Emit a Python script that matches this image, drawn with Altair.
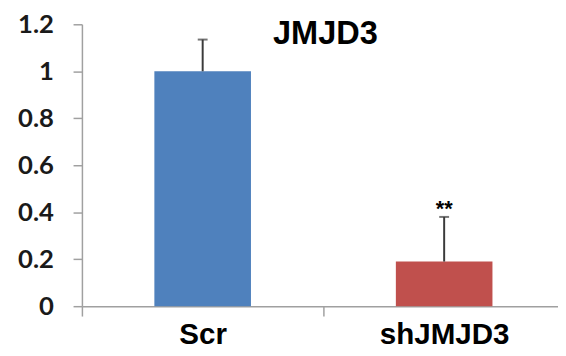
import altair as alt
import pandas as pd

categories = ["Scr", "shJMJD3"]
values = [1.0, 0.19]
errors = [0.135, 0.19]
marks = ["", "**"]
colors = ["#4F81BD", "#C0504D"]
y_ticks = [0, 0.2, 0.4, 0.6, 0.8, 1.0, 1.2]
chart_title = "JMJD3"

df = pd.DataFrame({
    "cat": categories,
    "value": values,
    "upper": [v + e for v, e in zip(values, errors)],
    "sig": marks,
})

x_enc = alt.X(
    "cat:N",
    sort=categories,
    scale=alt.Scale(range=[0, 490], paddingInner=0, paddingOuter=0),
    axis=alt.Axis(
        title=None, labelAngle=0, tickBand="extent", tickSize=10,
        tickColor="#A0A0A0", tickWidth=1.5, domainColor="#A0A0A0", domainWidth=1.5,
        labelFont="Liberation Sans", labelFontSize=30, labelFontWeight="bold",
        labelColor="#000000", labelPadding=4,
    ),
)
y_scale = alt.Scale(domain=[0, 1.2], nice=False)
y_axis = alt.Axis(
    title=None, values=y_ticks, format=".1~f", grid=False, tickSize=9,
    tickColor="#A0A0A0", tickWidth=1.5, domainColor="#A0A0A0", domainWidth=1.5,
    labelFont="Lato", labelFontSize=26, labelFontWeight="bold",
    labelColor="#1a1a1a", labelPadding=20,
)

base = alt.Chart(df)

bars = base.mark_bar(width=alt.RelativeBandSize(0.4)).encode(
    x=x_enc,
    y=alt.Y("value:Q", scale=y_scale, axis=y_axis),
    color=alt.Color("cat:N", scale=alt.Scale(domain=categories, range=colors), legend=None),
)

err = base.mark_rule(color="#3a3a3a", strokeWidth=2).encode(
    x=alt.X("cat:N", sort=categories),
    y="value:Q",
    y2="upper:Q",
)

caps = base.mark_tick(color="#3a3a3a", size=10, thickness=2).encode(
    x=alt.X("cat:N", sort=categories),
    y="upper:Q",
)

sig = base.mark_text(font="Liberation Sans", fontSize=22, fontWeight="bold",
                     color="#000000", baseline="alphabetic", dy=-1).encode(
    x=alt.X("cat:N", sort=categories),
    y="upper:Q",
    text="sig:N",
)

title = alt.Chart(pd.DataFrame({"t": [chart_title]})).mark_text(
    font="Liberation Sans", fontSize=33, fontWeight="bold", color="#000000",
    baseline="alphabetic", align="center",
).encode(x=alt.value(247), y=alt.value(20), text="t:N")

chart = alt.layer(bars, err, caps, sig, title).properties(
    width=483, height=286,
    autosize=alt.AutoSizeParams(type="none"),
    padding={"left": 75, "top": 14, "right": 0, "bottom": 48},
).configure_view(stroke=None)

chart.save("out.html", embed_options={"renderer": "svg", "actions": False})
